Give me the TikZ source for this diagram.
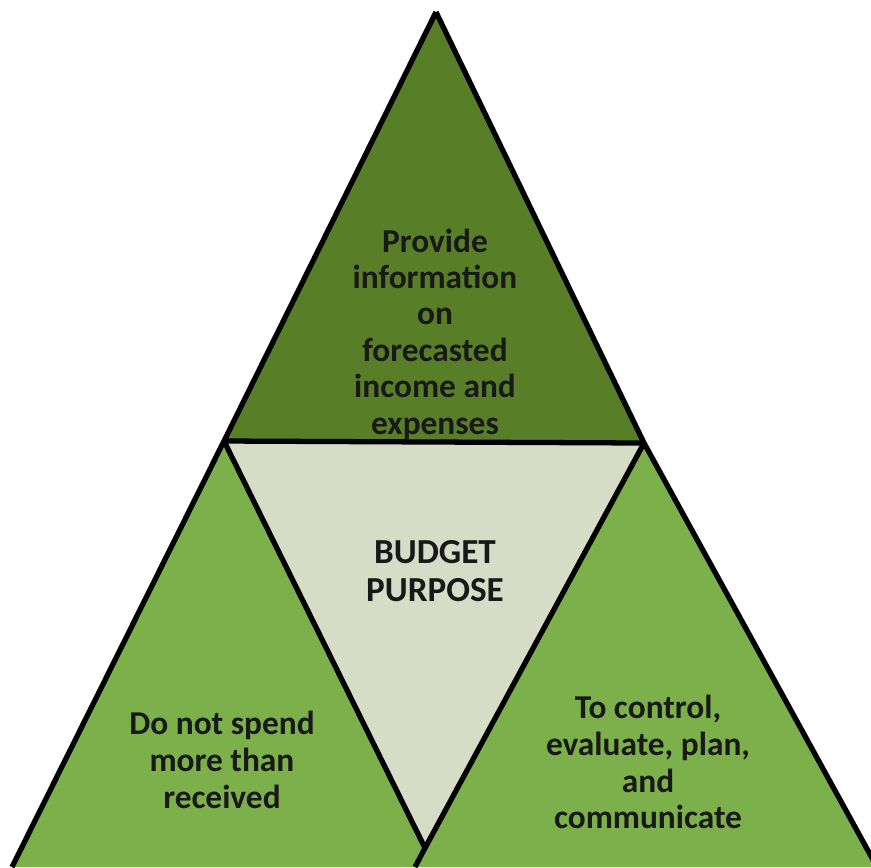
\documentclass[tikz,border=0pt]{standalone}
\usepackage{fontspec}
\setmainfont{Carlito}
\usepackage{xcolor}
\definecolor{darkleaf}{RGB}{88,126,40}
\definecolor{lightleaf}{RGB}{124,176,74}
\definecolor{paleleaf}{RGB}{214,220,198}

\begin{document}
\begin{tikzpicture}[x=0.02cm,y=-0.02cm,line join=round,
    edge/.style={draw=black,line width=3pt},
    label text/.style={align=center,font=\fontsize{19}{21}\selectfont\bfseries,text=black!90}]
  \useasboundingbox (0,0) rectangle (871,867);
  % corners
  \coordinate (apex) at (436,12);
  \coordinate (tl) at (224,441);
  \coordinate (tr) at (644,443);
  \coordinate (vee) at (425,848);
  \coordinate (foot) at (415,867);
  \coordinate (bl) at (12,867);
  \coordinate (br) at (877,867);
  % pieces
  \fill[paleleaf] (tl) -- (tr) -- (vee) -- cycle;
  \fill[lightleaf] (tl) -- (vee) -- (foot) -- (bl) -- cycle;
  \fill[lightleaf] (tr) -- (br) -- (foot) -- (vee) -- cycle;
  \fill[darkleaf] (apex) -- (tr) -- (tl) -- cycle;
  \draw[edge] (apex) -- (tr) -- (br);
  \draw[edge] (apex) -- (tl) -- (bl);
  \draw[edge] (tl) -- (tr);
  \draw[edge] (tl) -- (vee) -- (tr);
  \draw[edge] (vee) -- (foot);
  % labels
  \node[label text,font=\fontsize{19}{20.7}\selectfont\bfseries] (info) at (435,334) {Provide\\information\\on\\forecasted\\income and\\expenses};
  \node[label text,font=\fontsize{20}{21.5}\selectfont\bfseries] (purpose) at (435,571) {BUDGET\\PURPOSE};
  \node[label text] (spend) at (222,760) {Do not spend\\more than\\received};
  \node[label text] (control) at (648,762) {To control,\\evaluate, plan,\\and\\communicate};
\end{tikzpicture}
\end{document}
